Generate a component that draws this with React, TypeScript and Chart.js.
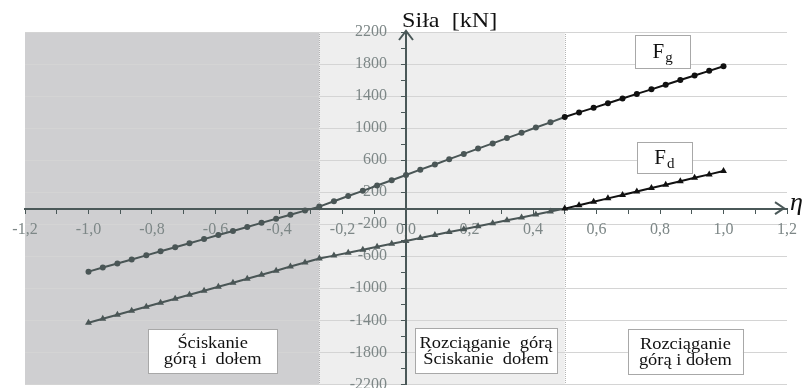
import React, { useEffect, useRef } from "react";
import { Chart, registerables } from "chart.js";

Chart.register(...registerables);

// η values
const eta = [
  -1.0, -0.955, -0.909, -0.864, -0.818, -0.773, -0.727, -0.682, -0.636, -0.591,
  -0.545, -0.5, -0.455, -0.409, -0.364, -0.318, -0.273, -0.227, -0.182, -0.136,
  -0.091, -0.045, 0.0, 0.045, 0.091, 0.136, 0.182, 0.227, 0.273, 0.318,
  0.364, 0.409, 0.455, 0.5, 0.545, 0.591, 0.636, 0.682, 0.727, 0.773,
  0.818, 0.864, 0.909, 0.955, 1.0,
];

const Fg = [
  -792, -741, -690, -640, -589, -538, -487, -437, -386, -335,
  -284, -234, -183, -132, -81, -30, 20, 86, 152, 217,
  283, 349, 415, 481, 546, 612, 678, 744, 809, 875,
  941, 1007, 1072, 1138, 1196, 1253, 1311, 1369, 1427, 1484,
  1542, 1600, 1657, 1715, 1773,
];

const Fd = [
  -1431, -1381, -1331, -1281, -1231, -1180, -1130, -1080, -1030, -980,
  -930, -880, -830, -780, -729, -679, -629, -592, -556, -519,
  -482, -445, -409, -372, -335, -298, -262, -225, -188, -151,
  -115, -78, -41, -5, 38, 81, 123, 166, 209, 251,
  294, 337, 379, 422, 465,
];

const zoneBounds = [-0.273, 0.5];
const xMin = -1.2;
const xMax = 1.2;
const yMin = -2200;
const yMax = 2200;

const seriesLabels = ["F", "F"];
const seriesSubs = ["g", "d"];
const zoneTexts = [
  ["Ściskanie", "górą i  dołem"],
  ["Rozciąganie  górą", "Ściskanie  dołem"],
  ["Rozciąganie", "górą i dołem"],
];

const AXIS = "#4a5858";
const TICKTXT = "#7d8787";
const SHADED_LINE = "#4a5656";
const DARK_LINE = "#111111";
const SERIF = "'Liberation Serif', 'DejaVu Serif', serif";

export default function App() {
  const ref = useRef<HTMLCanvasElement | null>(null);

  useEffect(() => {
    if (!ref.current) return;

    const ptColor = (x: number) => (x >= zoneBounds[1] - 0.001 ? DARK_LINE : SHADED_LINE);

    const stretchText = (ctx: any, text: string, x: number, y: number, sx: number) => {
      ctx.save();
      ctx.translate(x, y);
      ctx.scale(sx, 1);
      ctx.fillText(text, 0, 0);
      ctx.restore();
    };

    const decor = {
      id: "decor",
      beforeDraw(chart: any) {
        const { ctx, chartArea: a, scales } = chart;
        const x = scales.x;
        const xb0 = x.getPixelForValue(zoneBounds[0]);
        const xb1 = x.getPixelForValue(zoneBounds[1]);
        ctx.save();
        ctx.fillStyle = "#cfcfd1";
        ctx.fillRect(a.left, a.top, xb0 - a.left, a.bottom - a.top);
        ctx.fillStyle = "#eeeeee";
        ctx.fillRect(xb0, a.top, xb1 - xb0, a.bottom - a.top);
        ctx.strokeStyle = "#b4b4b4";
        ctx.lineWidth = 1;
        ctx.setLineDash([1, 1]);
        [xb0, xb1].forEach((px) => {
          ctx.beginPath();
          ctx.moveTo(Math.round(px) + 0.5, a.top);
          ctx.lineTo(Math.round(px) + 0.5, a.bottom);
          ctx.stroke();
        });
        ctx.restore();
      },
      afterDraw(chart: any) {
        const { ctx, chartArea: a, scales } = chart;
        const x = scales.x;
        const y = scales.y;
        const x0 = x.getPixelForValue(0);
        const y0 = y.getPixelForValue(0);
        ctx.save();
        // arrows
        ctx.strokeStyle = AXIS;
        ctx.lineWidth = 2;
        ctx.beginPath();
        ctx.moveTo(x0 - 7, a.top + 8);
        ctx.lineTo(x0, a.top - 1);
        ctx.lineTo(x0 + 7, a.top + 8);
        ctx.stroke();
        ctx.beginPath();
        ctx.moveTo(a.right - 12, y0 - 6);
        ctx.lineTo(a.right - 3, y0);
        ctx.lineTo(a.right - 12, y0 + 6);
        ctx.stroke();
        // axis titles
        ctx.fillStyle = "#111";
        ctx.font = `21px ${SERIF}`;
        ctx.textAlign = "left";
        ctx.textBaseline = "alphabetic";
        stretchText(ctx, "Siła  [kN]", x0 - 4, a.top - 5, 1.15);
        ctx.font = `italic 26px ${SERIF}`;
        ctx.textBaseline = "middle";
        ctx.fillText("η", a.right + 3, y0 - 5);

        // boxes
        const box = (cx: number, cy: number, w: number, h: number) => {
          const px = x.getPixelForValue(cx);
          const py = y.getPixelForValue(cy);
          ctx.fillStyle = "#ffffff";
          ctx.fillRect(px - w / 2, py - h / 2, w, h);
          ctx.strokeStyle = "#a8a8a8";
          ctx.lineWidth = 1;
          ctx.strokeRect(Math.round(px - w / 2) + 0.5, Math.round(py - h / 2) + 0.5, w, h);
          return { px, py };
        };
        const seriesBoxes = [
          { cx: 0.808, cy: 1955, w: 55, h: 33 },
          { cx: 0.814, cy: 627, w: 55, h: 31 },
        ];
        seriesBoxes.forEach((b, i) => {
          const { px, py } = box(b.cx, b.cy, b.w, b.h);
          ctx.fillStyle = "#111";
          ctx.font = `21px ${SERIF}`;
          ctx.textAlign = "left";
          ctx.textBaseline = "alphabetic";
          const mw = ctx.measureText(seriesLabels[i]).width;
          ctx.font = `15px ${SERIF}`;
          const sw = ctx.measureText(seriesSubs[i]).width;
          const start = px - (mw + 1 + sw) / 2;
          ctx.font = `21px ${SERIF}`;
          ctx.fillText(seriesLabels[i], start, py + 6);
          ctx.font = `15px ${SERIF}`;
          ctx.fillText(seriesSubs[i], start + mw + 1, py + 10);
        });
        const zoneBoxes = [
          { cx: -0.609, cy: -1786, w: 129, h: 44 },
          { cx: 0.252, cy: -1780, w: 142, h: 45 },
          { cx: 0.88, cy: -1792, w: 115, h: 45 },
        ];
        zoneBoxes.forEach((b, i) => {
          const { px, py } = box(b.cx, b.cy, b.w, b.h);
          ctx.fillStyle = "#111";
          ctx.font = `16px ${SERIF}`;
          ctx.textAlign = "center";
          ctx.textBaseline = "middle";
          stretchText(ctx, zoneTexts[i][0], px, py - 7, 1.15);
          stretchText(ctx, zoneTexts[i][1], px, py + 9, 1.15);
        });
        ctx.restore();
      },
    };

    const chart = new Chart(ref.current, {
      type: "line",
      data: {
        datasets: [
          {
            label: "Fg",
            data: eta.map((e, i) => ({ x: e, y: Fg[i] })),
            borderWidth: 2,
            borderColor: SHADED_LINE,
            pointStyle: "circle",
            pointRadius: 3,
            pointBorderWidth: 0,
            pointBackgroundColor: eta.map(ptColor),
            segment: {
              borderColor: (c: any) => ptColor(c.p0.parsed.x),
            },
          },
          {
            label: "Fd",
            data: eta.map((e, i) => ({ x: e, y: Fd[i] })),
            borderWidth: 2,
            borderColor: SHADED_LINE,
            pointStyle: "triangle",
            pointRadius: 4,
            pointBorderWidth: 0,
            pointBackgroundColor: eta.map(ptColor),
            segment: {
              borderColor: (c: any) => ptColor(c.p0.parsed.x),
            },
          },
        ],
      },
      options: {
        animation: false,
        responsive: false,
        layout: { padding: { left: 25, right: 23, top: 32, bottom: 5 } },
        plugins: {
          legend: { display: false },
          tooltip: { enabled: false },
        },
        scales: {
          x: {
            type: "linear",
            position: "center",
            min: xMin,
            max: xMax,
            grid: {
              drawOnChartArea: false,
              drawTicks: true,
              tickLength: 4,
              tickColor: AXIS,
            },
            border: { display: true, color: AXIS, width: 2 },
            ticks: {
              stepSize: 0.1,
              autoSkip: false,
              maxRotation: 0,
              padding: 8,
              color: TICKTXT,
              font: { family: SERIF, size: 16 },
              callback: (v: any, i: number) => {
                if (i % 2 !== 0) return "";
                let n = Math.round(Number(v) * 10) / 10;
                if (Math.abs(n) < 1e-9) n = 0;
                return n.toFixed(1).replace(".", ",");
              },
            },
          },
          y: {
            type: "linear",
            position: "center",
            min: yMin,
            max: yMax,
            grid: {
              drawOnChartArea: true,
              drawTicks: true,
              tickLength: 4,
              tickColor: AXIS,
              color: (c: any) =>
                c.tick && Math.round(c.tick.value + 2200) % 400 === 0 ? "#d4d4d4" : "rgba(0,0,0,0)",
              lineWidth: 1,
            },
            border: { display: true, color: AXIS, width: 2 },
            ticks: {
              stepSize: 200,
              autoSkip: false,
              padding: 15,
              color: TICKTXT,
              font: { family: SERIF, size: 16 },
              callback: (v: any) => {
                const n = Math.round(Number(v));
                return (n + 2200) % 400 === 0 ? String(n) : "";
              },
            },
          },
        },
      },
      plugins: [decor],
    });

    return () => chart.destroy();
  }, []);

  return (
    <div
      style={{
        position: "fixed",
        left: 0,
        top: 0,
        width: 810,
        height: 388,
        overflow: "hidden",
        background: "#fff",
      }}
    >
      <canvas ref={ref} width={810} height={409} style={{ display: "block" }} />
    </div>
  );
}
